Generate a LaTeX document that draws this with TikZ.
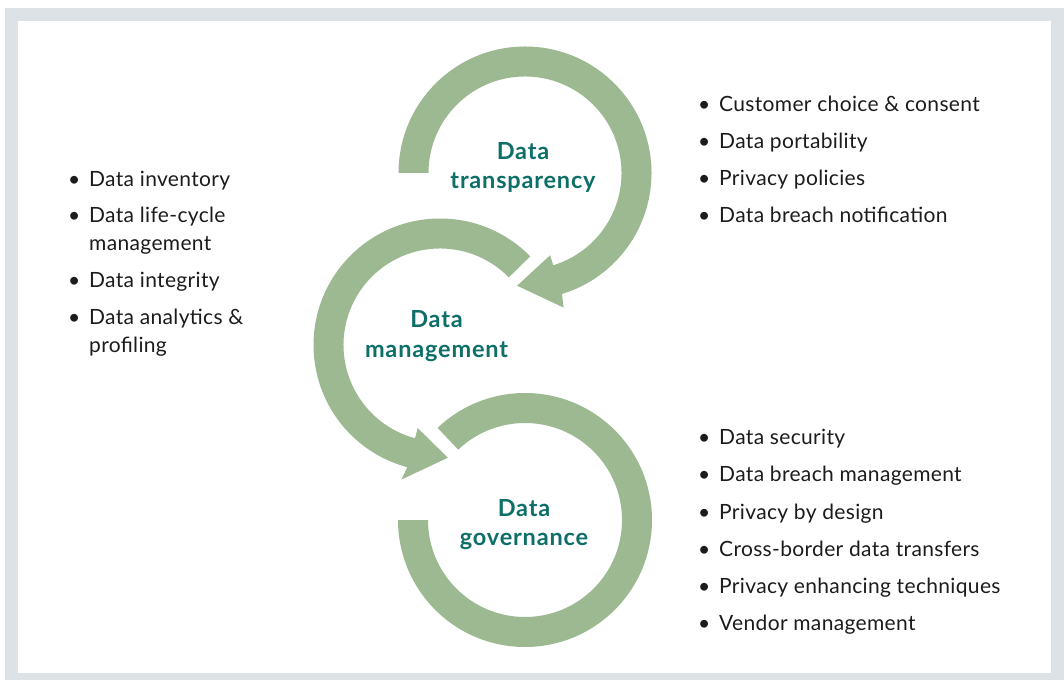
\documentclass[tikz,border=0pt]{standalone}
\usepackage{fontspec}
\usetikzlibrary{calc}
\setmainfont{Lato}
\definecolor{sage}{HTML}{9CB992}
\definecolor{deepteal}{HTML}{0E6F69}
\definecolor{framegray}{HTML}{DCE2E5}
\definecolor{ink}{HTML}{1C1C1C}
\newcommand\listfont{\fontsize{21}{29}\selectfont\addfontfeature{LetterSpace=1.6}}
\newcommand\headfont{\fontsize{23.5}{30}\selectfont\bfseries\addfontfeature{LetterSpace=3.5}}
% a bulleted entry: name, x, y (measured downwards from the top), text
\newcommand\bulletentry[4]{\node[entry] (#1) at (#2,680-#3) {\makebox[21pt][l]{\textbullet}#4};}
\begin{document}
\begin{tikzpicture}[x=1pt,y=1pt,
  loopband/.style={fill=sage, draw=none},
  heading/.style={font=\headfont, text=deepteal, anchor=base, inner sep=0pt},
  entry/.style={font=\listfont, text=ink, anchor=base west, inner sep=0pt}]
\useasboundingbox (0,0) rectangle (1064,680);

% frame
\fill[framegray] (5,0) rectangle (1064,672);
\fill[white] (18,7) rectangle (1051,659);

% loop centres
\coordinate (ct) at (525,507);
\coordinate (cm) at (440,335);
\coordinate (cb) at (525,160);

% upper loop: clockwise from the left, arrowhead pointing down-left
\path[loopband] ($(ct)+(180:126.5)$) arc[start angle=180, end angle=-73, radius=126.5]
  -- ($(ct)+(-74:140)$) -- ($(ct)+(-94:113)$) -- ($(ct)+(-73:86)$)
  -- ($(ct)+(-73:96.5)$) arc[start angle=-73, end angle=180, radius=96.5] -- cycle;

% middle loop: counter-clockwise, arrowhead pointing down-right
\path[loopband] ($(cm)+(44.5:126.5)$) arc[start angle=44.5, end angle=255, radius=126.5]
  -- ($(cm)+(254:140)$) -- ($(cm)+(274:113)$) -- ($(cm)+(255:86)$)
  -- ($(cm)+(255:96.5)$) arc[start angle=255, end angle=44.5, radius=96.5] -- cycle;

% lower loop: open ring
\path[loopband] ($(cb)+(133.5:127)$) arc[start angle=133.5, end angle=-180, radius=127]
  -- ($(cb)+(180:97)$) arc[start angle=-180, end angle=133.5, radius=97] -- cycle;

% headings
\node[heading] (h1a) at (523,680-160) {Data};
\node[heading] (h1b) at (523,680-189) {transparency};
\node[heading] (h2a) at (436.5,680-328) {Data};
\node[heading] (h2b) at (436.5,680-358) {management};
\node[heading] (h3a) at (524,680-516) {Data};
\node[heading] (h3b) at (524,680-545) {governance};

% left list
\bulletentry{l1}{68}{187}{Data inventory}
\bulletentry{l2}{68}{223}{Data life-cycle}
\node[entry] (l2b) at (89,680-251) {management};
\bulletentry{l3}{68}{288}{Data integrity}
\bulletentry{l4}{68}{325}{Data analytics \&}
\node[entry] (l4b) at (89,680-353) {profiling};

% upper right list
\bulletentry{r1}{698}{112}{Customer choice \& consent}
\bulletentry{r2}{698}{149}{Data portability}
\bulletentry{r3}{698}{186}{Privacy policies}
\bulletentry{r4}{698}{223}{Data breach notification}

% lower right list
\bulletentry{s1}{698}{445}{Data security}
\bulletentry{s2}{698}{482}{Data breach management}
\bulletentry{s3}{698}{519}{Privacy by design}
\bulletentry{s4}{698}{556}{Cross-border data transfers}
\bulletentry{s5}{698}{593}{Privacy enhancing techniques}
\bulletentry{s6}{698}{630}{Vendor management}
\end{tikzpicture}
\end{document}
